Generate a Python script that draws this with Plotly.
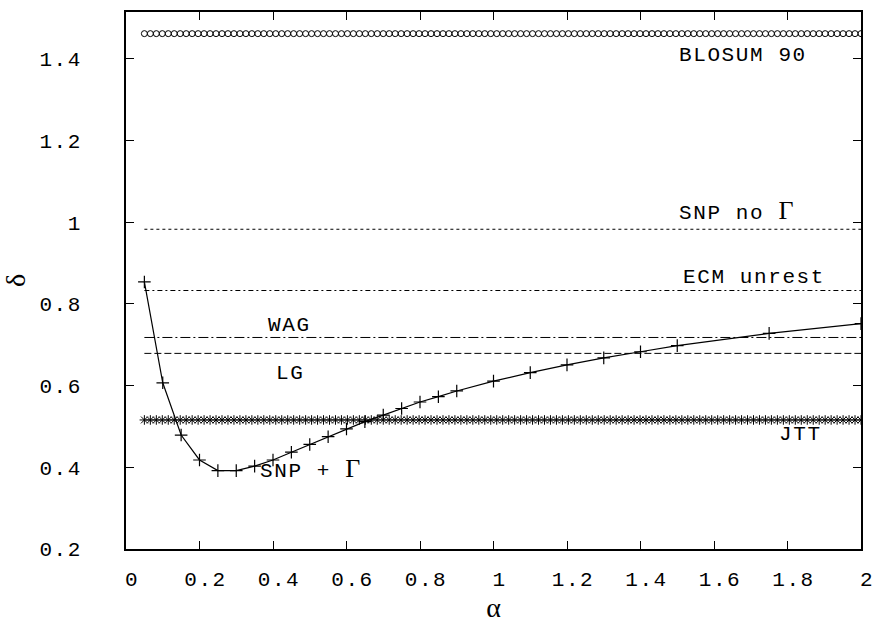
import numpy as np
import plotly.graph_objects as go

# SNP + Gamma: divergence delta as a function of the shape parameter alpha
snp_gamma_alpha = [0.05, 0.10, 0.15, 0.20, 0.25, 0.30, 0.35, 0.40, 0.45, 0.50,
                   0.55, 0.60, 0.65, 0.70, 0.75, 0.80, 0.85, 0.90,
                   1.00, 1.10, 1.20, 1.30, 1.40, 1.50, 1.75, 2.00]
snp_gamma_delta = [0.854, 0.607, 0.479, 0.418, 0.392, 0.392, 0.403, 0.418, 0.437, 0.456,
                   0.475, 0.494, 0.512, 0.528, 0.544, 0.560, 0.573, 0.587,
                   0.611, 0.632, 0.651, 0.668, 0.683, 0.698, 0.728, 0.752]

# alpha-independent models (constant delta)
blosum90_delta = 1.462
snp_no_gamma_delta = 0.983
ecm_unrest_delta = 0.833
wag_delta = 0.718
lg_delta = 0.679
jtt_delta = 0.516

# alpha sampling used for the constant models
alpha_grid = np.linspace(0.05, 2.0, 121)

x_ticks = [0, 0.2, 0.4, 0.6, 0.8, 1.0, 1.2, 1.4, 1.6, 1.8, 2.0]
x_tick_text = ["0", "0.2", "0.4", "0.6", "0.8", "1", "1.2", "1.4", "1.6", "1.8", "2"]
y_ticks = [0.2, 0.4, 0.6, 0.8, 1.0, 1.2, 1.4]
y_tick_text = ["0.2", "0.4", "0.6", "0.8", "1", "1.2", "1.4"]

MONO = "Liberation Mono"
SERIF = "Liberation Serif"
INK = "black"


def spaced(text):
    # widen the monospace advance a little
    return f"<span style='letter-spacing:1.6px'>{text}</span>"


fig = go.Figure()


def flat(value):
    return [value] * len(alpha_grid)


# constant-model lines
for value, dash in [(snp_no_gamma_delta, "3px,3px"),
                    (ecm_unrest_delta, "5px,3px,2px,3px"),
                    (wag_delta, "10px,3px,2px,3px"),
                    (lg_delta, "7px,3px")]:
    fig.add_trace(go.Scatter(x=alpha_grid, y=flat(value), mode="lines",
                             line=dict(color=INK, width=1, dash=dash),
                             showlegend=False, hoverinfo="skip"))

# BLOSUM 90 (open circles)
fig.add_trace(go.Scatter(x=alpha_grid, y=flat(blosum90_delta), mode="markers",
                         marker=dict(symbol="circle-open", size=6, color=INK,
                                     line=dict(width=1, color=INK)),
                         showlegend=False))

# JTT (asterisks)
fig.add_trace(go.Scatter(x=alpha_grid, y=flat(jtt_delta), mode="markers",
                         marker=dict(symbol="asterisk-open", size=8, color=INK,
                                     line=dict(width=1, color=INK)),
                         showlegend=False))

# SNP + Gamma curve
fig.add_trace(go.Scatter(x=snp_gamma_alpha, y=snp_gamma_delta, mode="lines+markers",
                         line=dict(color=INK, width=1.2),
                         marker=dict(symbol="cross-thin-open", size=9, color=INK,
                                     line=dict(width=1.2, color=INK)),
                         showlegend=False, cliponaxis=True))

gamma = f"<span style='font-family:{SERIF}; font-size:26px'>Γ</span>"
labels = [
    (spaced("BLOSUM 90"), 1.68, 1.408),
    (spaced("SNP no ") + gamma, 1.66, 1.030),
    (spaced("ECM unrest"), 1.71, 0.866),
    (spaced("WAG"), 0.446, 0.748),
    (spaced("LG"), 0.446, 0.630),
    (spaced("JTT"), 1.834, 0.481),
    (spaced("SNP + ") + gamma, 0.50, 0.398),
]
for text, ax, ay in labels:
    fig.add_annotation(x=ax, y=ay, text=text, showarrow=False,
                       xanchor="center", yanchor="middle",
                       font=dict(family=MONO, size=21, color=INK))

axis_common = dict(showline=True, linewidth=1.6, linecolor=INK, mirror="ticks",
                   ticks="inside", ticklen=8, tickwidth=1, tickcolor=INK,
                   showgrid=False, zeroline=False, automargin=False,
                   ticklabeloverflow="allow",
                   tickfont=dict(family=MONO, size=21, color=INK))

fig.update_xaxes(range=[0, 2], tickvals=x_ticks,
                 ticktext=[spaced(t) for t in x_tick_text],
                 ticklabelstandoff=10, ticklabelshift=6,
                 title=dict(text="α", font=dict(family=SERIF, size=28, color=INK),
                            standoff=8),
                 **axis_common)
fig.update_yaxes(range=[0.2, 1.515], tickvals=y_ticks,
                 ticktext=[spaced(t) for t in y_tick_text],
                 ticklabelstandoff=38,
                 title=dict(text="δ", font=dict(family=SERIF, size=28, color=INK),
                            standoff=12),
                 **axis_common)

fig.update_layout(width=873, height=623,
                  margin=dict(l=126, r=12, t=12, b=74),
                  plot_bgcolor="white", paper_bgcolor="white")

fig.write_html("out.html")
